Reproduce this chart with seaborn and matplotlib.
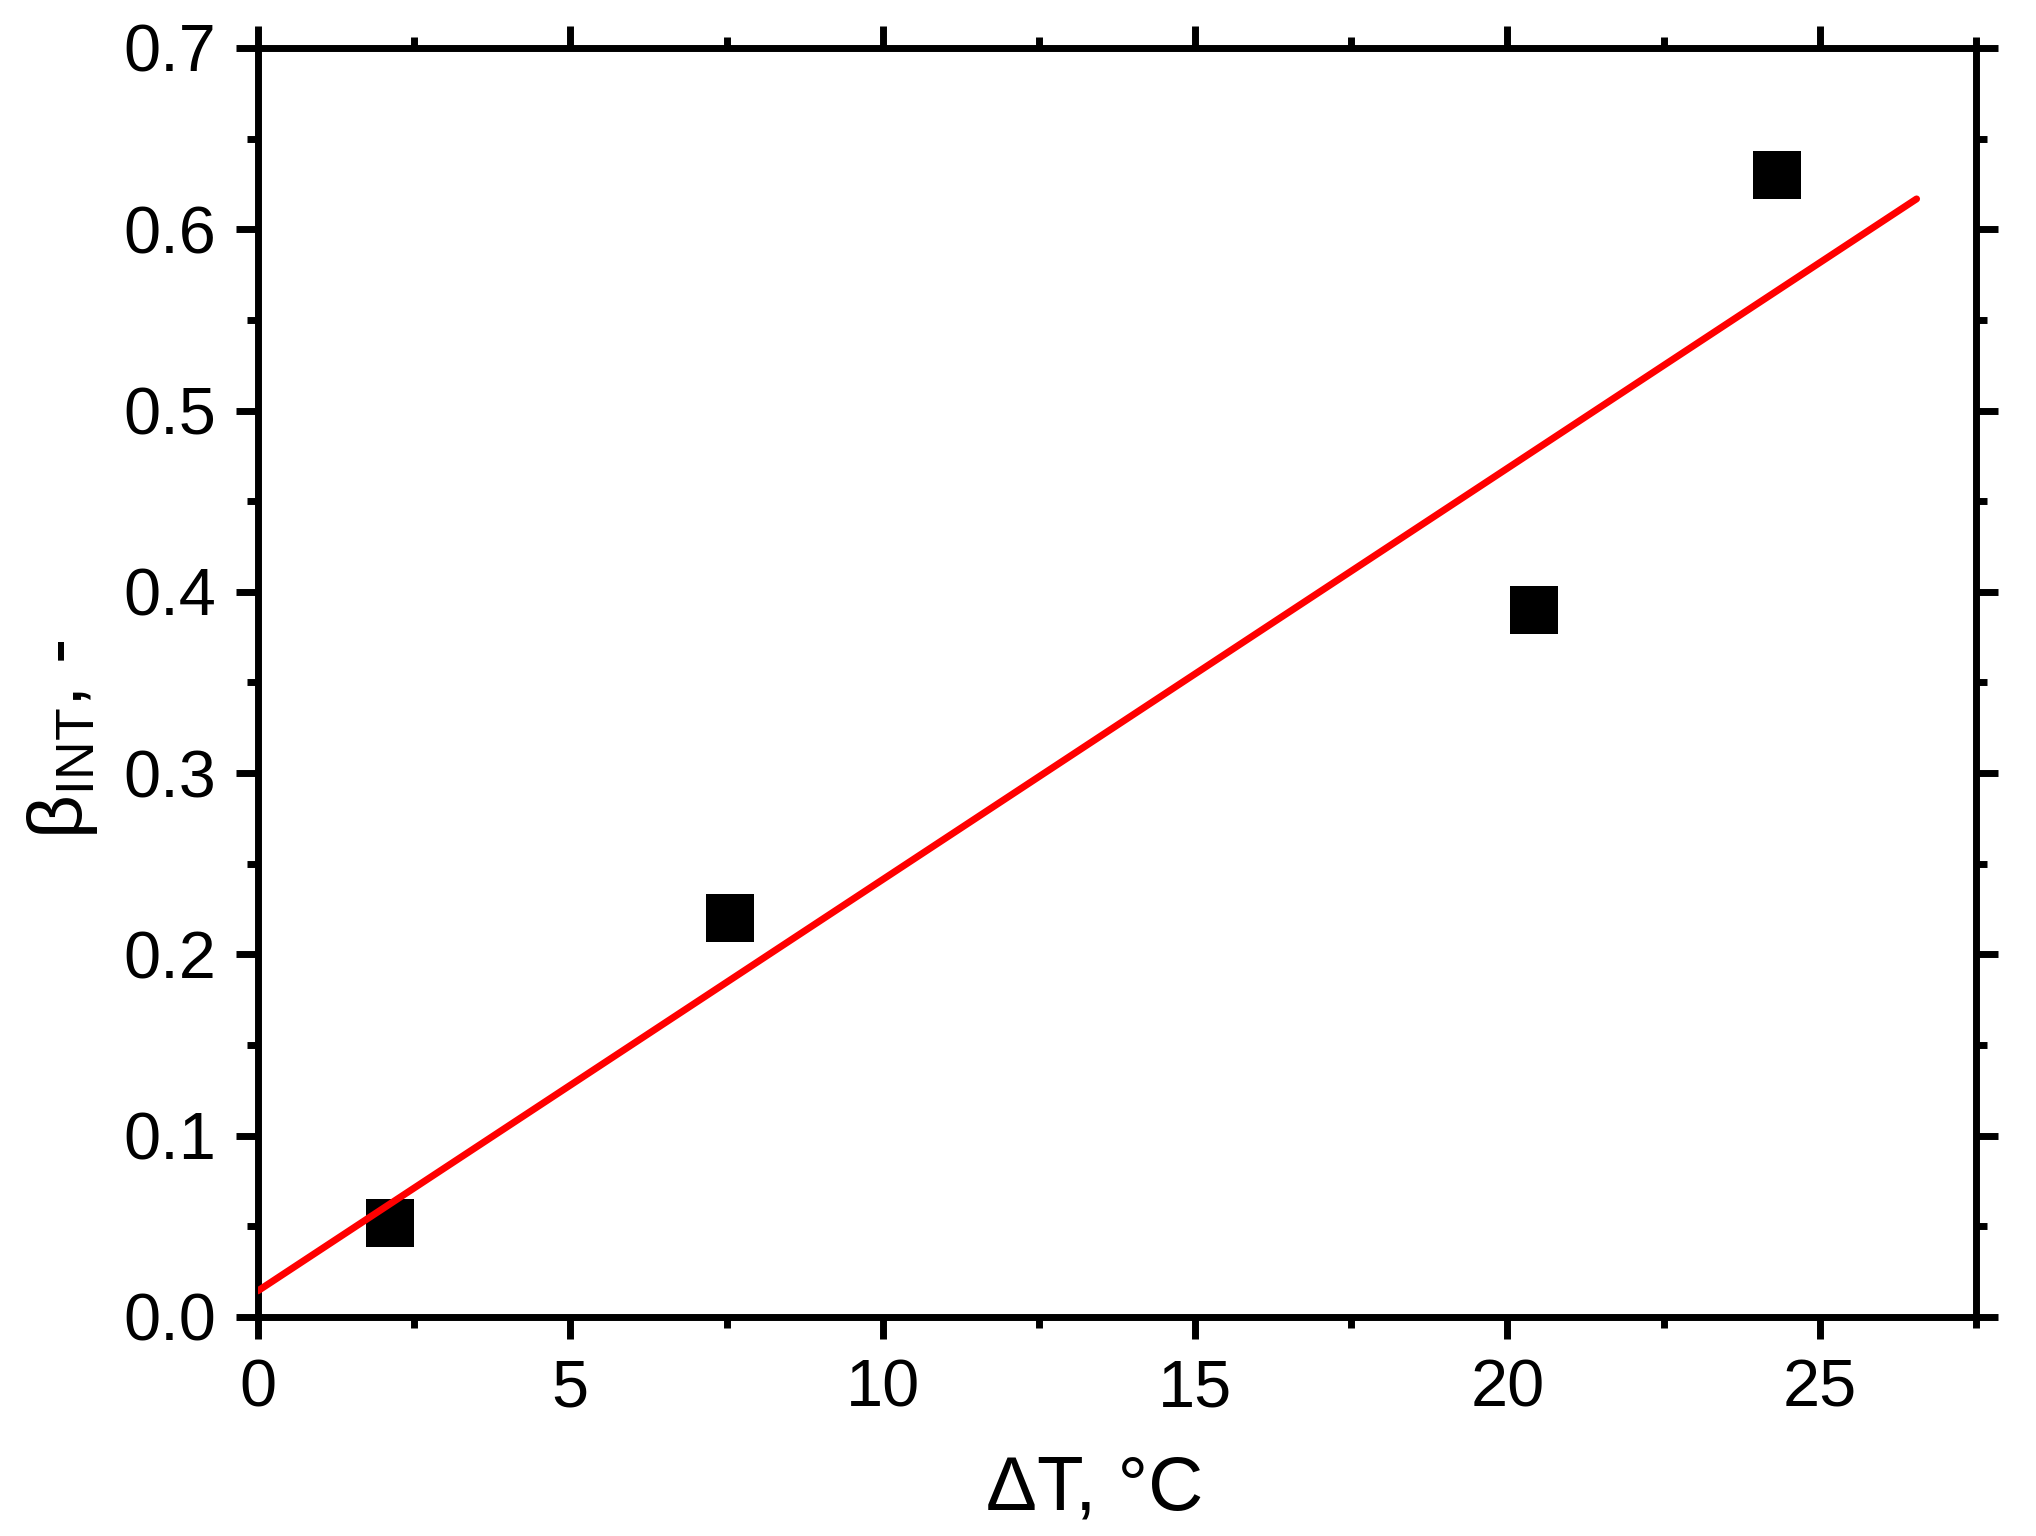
import numpy as np
import pandas as pd
import matplotlib
matplotlib.use("Agg")
import matplotlib.pyplot as plt
import seaborn as sns
from matplotlib.ticker import MultipleLocator, FormatStrFormatter

# 1. Data
delta_t = [2.12, 7.55, 20.42, 24.32]
beta_int = [0.052, 0.220, 0.390, 0.630]
fit_x_range = [0.0, 26.55]

x_ticks = [0, 5, 10, 15, 20, 25]
y_ticks = [0.0, 0.1, 0.2, 0.3, 0.4, 0.5, 0.6, 0.7]

# 2. Style
sns.set_style("ticks")
plt.rcParams['font.family'] = ['Liberation Sans', 'DejaVu Sans']
plt.rcParams['mathtext.fontset'] = 'custom'
plt.rcParams['mathtext.rm'] = 'Liberation Sans'
plt.rcParams['mathtext.it'] = 'Liberation Sans:italic'
plt.rcParams['text.color'] = 'black'
plt.rcParams['axes.labelcolor'] = 'black'
plt.rcParams['xtick.color'] = 'black'
plt.rcParams['ytick.color'] = 'black'

# linear fit, drawn over the same range as the original
slope, intercept = np.polyfit(delta_t, beta_int, 1)
fit = pd.DataFrame({'x': fit_x_range,
                    'y': [intercept + slope * v for v in fit_x_range]})
points = pd.DataFrame({'dT': delta_t, 'beta': beta_int})

# 3. Plot
fig = plt.figure(figsize=(20.36, 15.36), dpi=100)
ax = fig.add_axes([0.1267, 0.1426, 0.8438, 0.8262])

sns.scatterplot(data=points, x='dT', y='beta', marker='s', s=34.5 ** 2,
                color='black', edgecolor='black', linewidth=0, ax=ax, zorder=2)
sns.lineplot(data=fit, x='x', y='y', color='red', linewidth=5, ax=ax, zorder=3)

ax.set_xlim(0, 27.5)
ax.set_ylim(0, 0.7)
ax.set_xticks(x_ticks)
ax.set_yticks(y_ticks)
ax.xaxis.set_minor_locator(MultipleLocator(2.5))
ax.yaxis.set_minor_locator(MultipleLocator(0.05))
ax.yaxis.set_major_formatter(FormatStrFormatter('%.1f'))

for side in ['left', 'right', 'top', 'bottom']:
    ax.spines[side].set_visible(True)
    ax.spines[side].set_linewidth(5)
    ax.spines[side].set_color('black')

ax.tick_params(which='both', direction='out', top=True, right=True,
               width=5, color='black', labelcolor='black')
ax.tick_params(which='major', length=16, labelsize=48, pad=14)
ax.tick_params(which='minor', length=8)

ax.set_xlabel('\u0394T, \u00b0C', fontsize=55)
ax.set_ylabel('\u03b2$_{\\mathrm{INT}}$, -', fontsize=55)
ax.xaxis.set_label_coords(0.487, -0.108)
ax.yaxis.set_label_coords(-0.092, 0.455)

fig.savefig('out.png', dpi=100)
